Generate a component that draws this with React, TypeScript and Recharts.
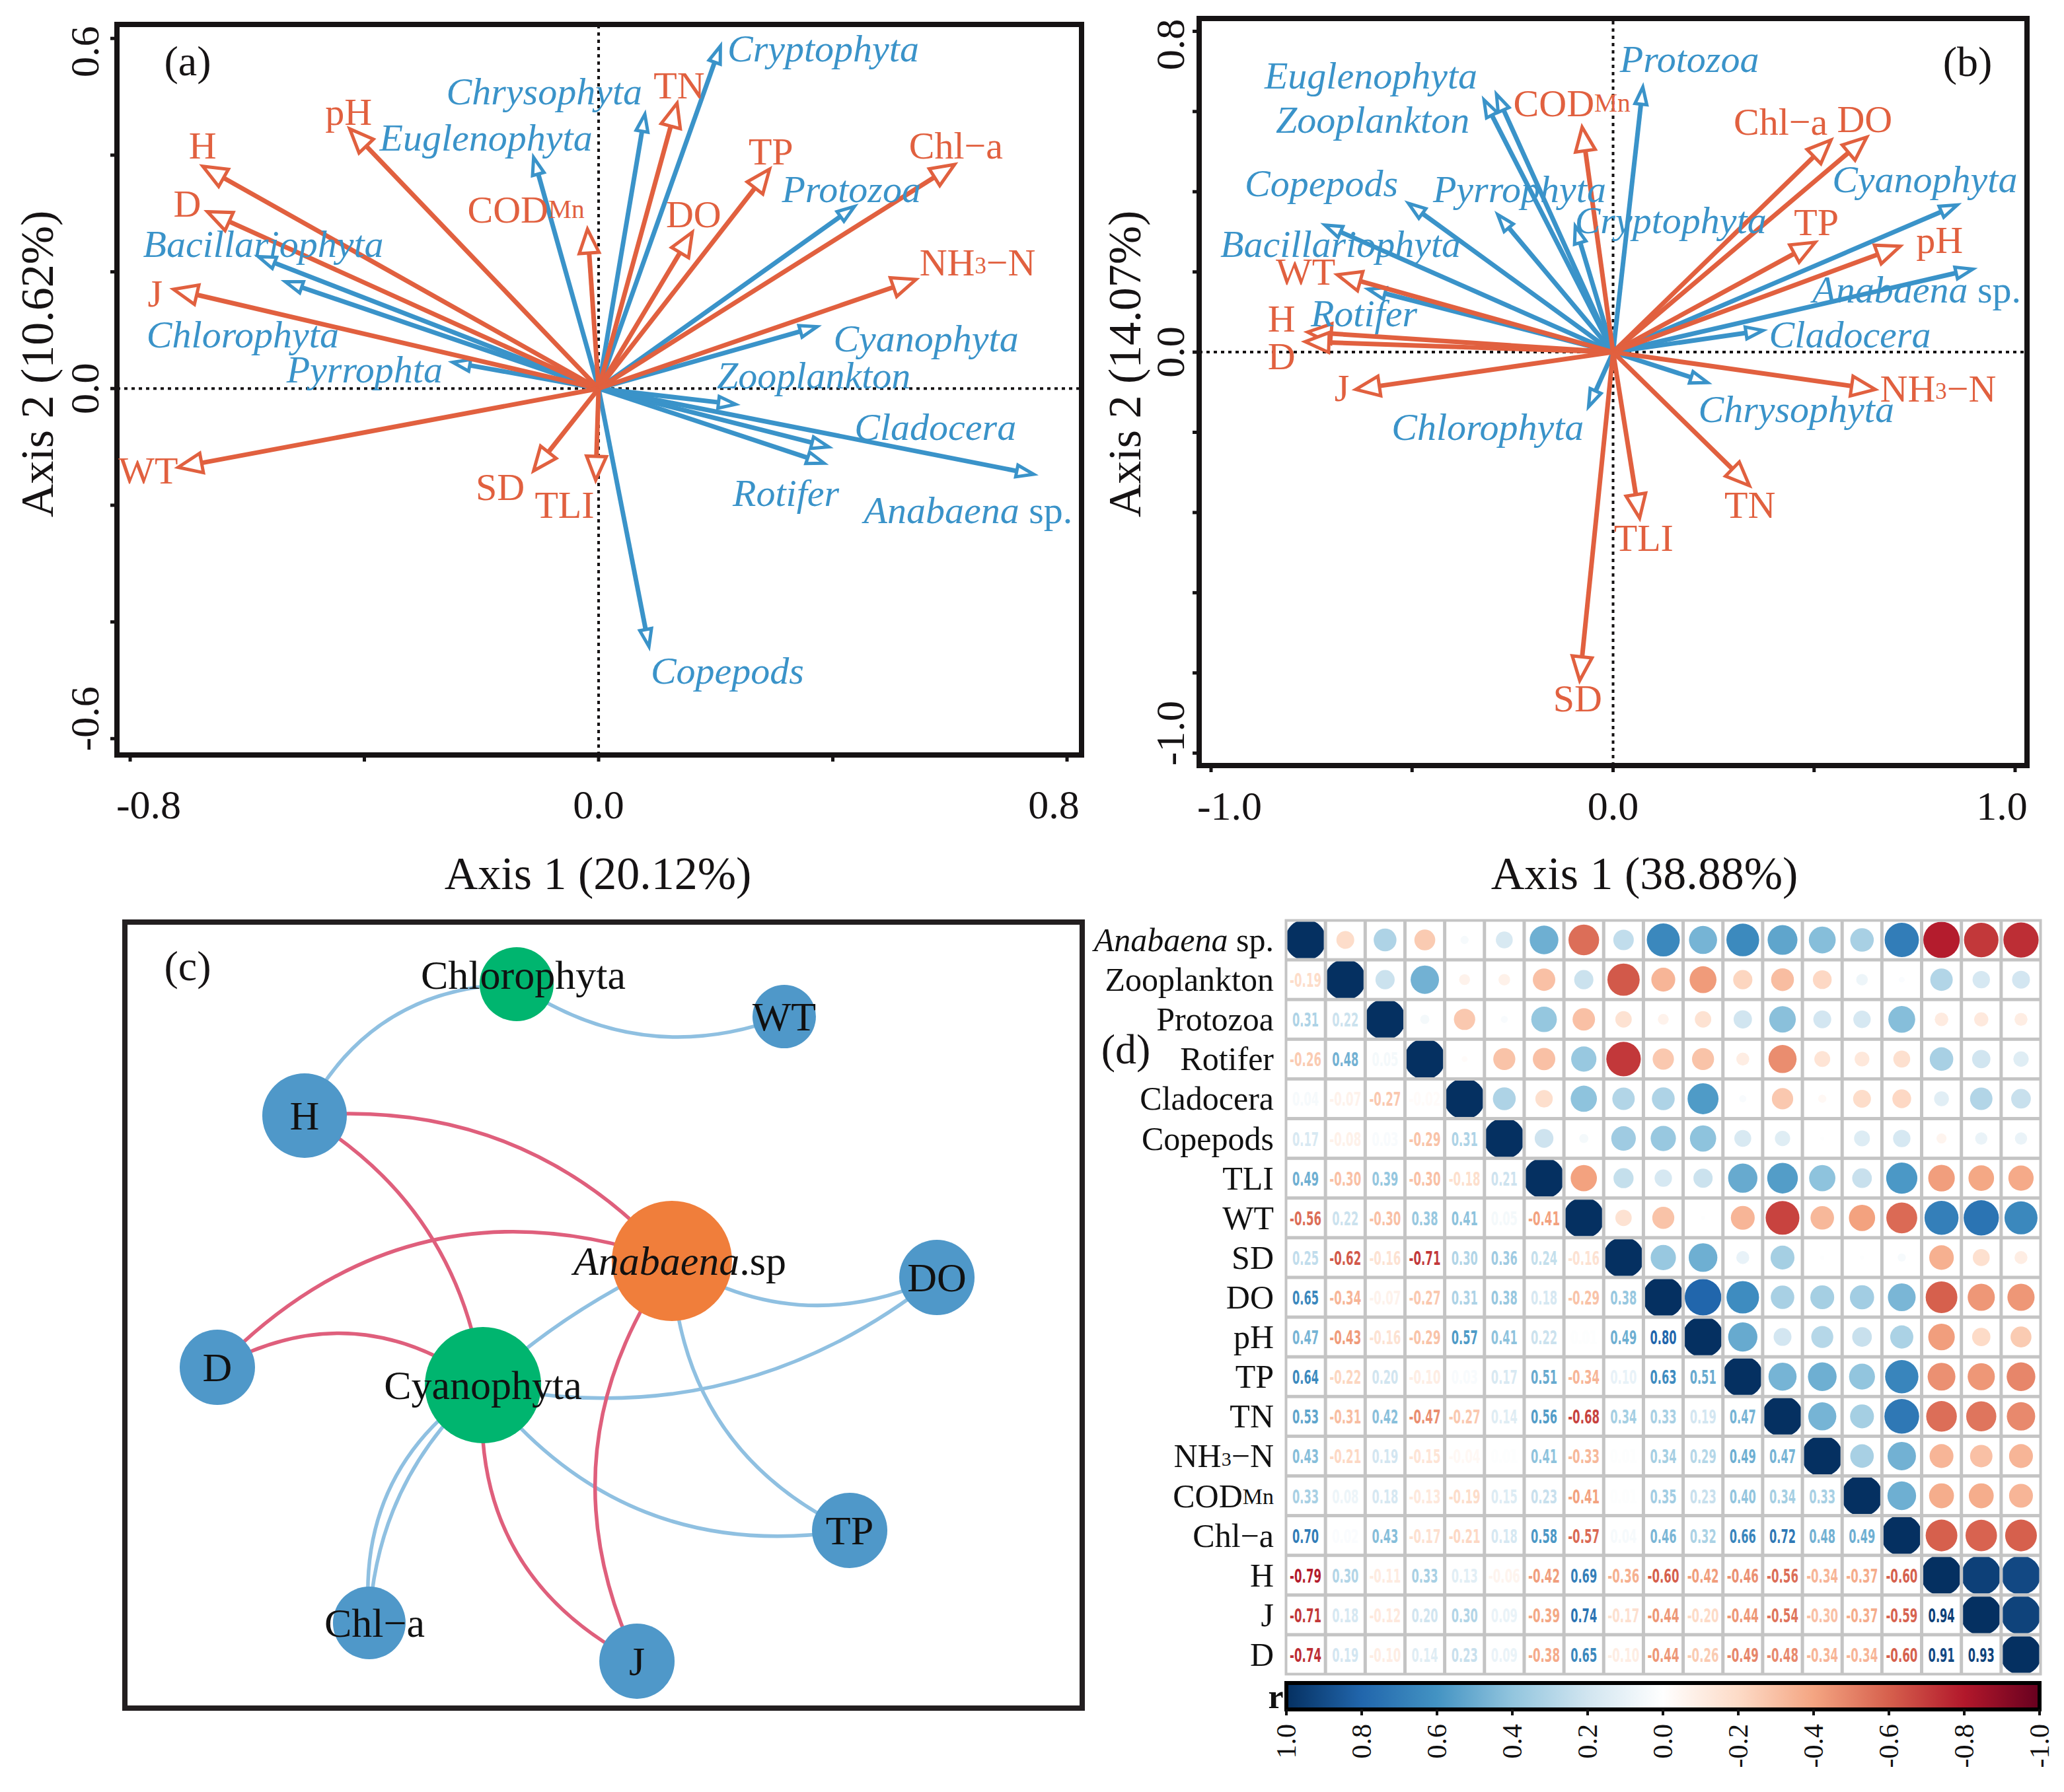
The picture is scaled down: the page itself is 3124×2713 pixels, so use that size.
import React from 'react';
import { ScatterChart, Scatter, XAxis, YAxis, ReferenceLine, ReferenceArea } from 'recharts';

const SERIF = '"Liberation Serif", "Times New Roman", Times, serif';
const NUMFONT = '"Liberation Sans Narrow", "DejaVu Sans Condensed", Roboto, "Liberation Sans", Arial, sans-serif';
const RED = '#e1603f';
const BLUE = '#3a93c9';
const INK = '#161314';

// ---------- (a) ordination, axis 1 20.12 %, axis 2 10.62 % ----------
const envA = [
  { name: 'H', x: -0.676, y: 0.381 },
  { name: 'pH', x: -0.425, y: 0.445 },
  { name: 'D', x: -0.668, y: 0.303 },
  { name: 'J', x: -0.726, y: 0.17 },
  { name: 'WT', x: -0.718, y: -0.135 },
  { name: 'CODMn', x: -0.019, y: 0.273 },
  { name: 'TN', x: 0.134, y: 0.489 },
  { name: 'TP', x: 0.292, y: 0.376 },
  { name: 'DO', x: 0.16, y: 0.268 },
  { name: 'Chl-a', x: 0.608, y: 0.384 },
  { name: 'NH3-N', x: 0.542, y: 0.187 },
  { name: 'SD', x: -0.111, y: -0.141 },
  { name: 'TLI', x: -0.005, y: -0.157 },
];
const spA = [
  { name: 'Cryptophyta', x: 0.208, y: 0.587 },
  { name: 'Chrysophyta', x: 0.079, y: 0.47 },
  { name: 'Euglenophyta', x: -0.111, y: 0.396 },
  { name: 'Protozoa', x: 0.437, y: 0.312 },
  { name: 'Bacillariophyta', x: -0.581, y: 0.226 },
  { name: 'Chlorophyta', x: -0.535, y: 0.183 },
  { name: 'Pyrrophta', x: -0.249, y: 0.045 },
  { name: 'Cyanophyta', x: 0.373, y: 0.106 },
  { name: 'Zooplankton', x: 0.234, y: -0.027 },
  { name: 'Cladocera', x: 0.393, y: -0.1 },
  { name: 'Rotifer', x: 0.385, y: -0.128 },
  { name: 'Anabaena sp.', x: 0.743, y: -0.147 },
  { name: 'Copepods', x: 0.086, y: -0.442 },
];
// where each name is written (text start, text middle height)
const labelsA = [
  { name: 'Cryptophyta', kind: 'sp', x: 0.22, y: 0.583 },
  { name: 'Chrysophyta', kind: 'sp', x: -0.26, y: 0.509 },
  { name: 'TN', kind: 'env', x: 0.094, y: 0.519 },
  { name: 'pH', kind: 'env', x: -0.467, y: 0.474 },
  { name: 'H', kind: 'env', x: -0.7, y: 0.416 },
  { name: 'Euglenophyta', kind: 'sp', x: -0.374, y: 0.43 },
  { name: 'TP', kind: 'env', x: 0.256, y: 0.406 },
  { name: 'Chl-a', kind: 'env', x: 0.53, y: 0.416 },
  { name: 'D', kind: 'env', x: -0.726, y: 0.317 },
  { name: 'CODMn', kind: 'env', x: -0.224, y: 0.307 },
  { name: 'DO', kind: 'env', x: 0.115, y: 0.298 },
  { name: 'Protozoa', kind: 'sp', x: 0.313, y: 0.342 },
  { name: 'Bacillariophyta', kind: 'sp', x: -0.778, y: 0.248 },
  { name: 'NH3-N', kind: 'env', x: 0.548, y: 0.216 },
  { name: 'J', kind: 'env', x: -0.77, y: 0.163 },
  { name: 'Chlorophyta', kind: 'sp', x: -0.772, y: 0.092 },
  { name: 'Cyanophyta', kind: 'sp', x: 0.401, y: 0.086 },
  { name: 'Pyrrophta', kind: 'sp', x: -0.533, y: 0.032 },
  { name: 'Zooplankton', kind: 'sp', x: 0.202, y: 0.022 },
  { name: 'Cladocera', kind: 'sp', x: 0.437, y: -0.066 },
  { name: 'WT', kind: 'env', x: -0.82, y: -0.141 },
  { name: 'SD', kind: 'env', x: -0.21, y: -0.169 },
  { name: 'TLI', kind: 'env', x: -0.109, y: -0.199 },
  { name: 'Rotifer', kind: 'sp', x: 0.229, y: -0.179 },
  { name: 'Anabaena sp.', kind: 'sp', x: 0.453, y: -0.208 },
  { name: 'Copepods', kind: 'sp', x: 0.089, y: -0.484 },
];
const XDOM_A = [-0.8226, 0.8248];
const YDOM_A = [-0.628, 0.624];
const XTICKS_A = [-0.8, -0.4, 0, 0.4, 0.8];
const YTICKS_A = [-0.6, -0.4, -0.2, 0, 0.2, 0.4, 0.6];
const XLAB_A = [-0.8, 0, 0.8];
const YLAB_A = [-0.6, 0, 0.6];

// ---------- (b) ordination, axis 1 38.88 %, axis 2 14.07 % ----------
const envB = [
  { name: 'CODMn', x: -0.077, y: 0.561 },
  { name: 'Chl-a', x: 0.542, y: 0.529 },
  { name: 'DO', x: 0.631, y: 0.536 },
  { name: 'TP', x: 0.503, y: 0.274 },
  { name: 'pH', x: 0.714, y: 0.264 },
  { name: 'WT', x: -0.686, y: 0.193 },
  { name: 'H', x: -0.76, y: 0.05 },
  { name: 'D', x: -0.766, y: 0.026 },
  { name: 'J', x: -0.64, y: -0.093 },
  { name: 'NH3-N', x: 0.652, y: -0.093 },
  { name: 'TN', x: 0.339, y: -0.333 },
  { name: 'TLI', x: 0.066, y: -0.414 },
  { name: 'SD', x: -0.083, y: -0.819 },
];
const spB = [
  { name: 'Protozoa', x: 0.074, y: 0.661 },
  { name: 'Euglenophyta', x: -0.29, y: 0.643 },
  { name: 'Zooplankton', x: -0.321, y: 0.629 },
  { name: 'Pyrrophyta', x: -0.287, y: 0.343 },
  { name: 'Copepods', x: -0.509, y: 0.371 },
  { name: 'Cryptophyta', x: -0.094, y: 0.314 },
  { name: 'Bacillariophyta', x: -0.717, y: 0.317 },
  { name: 'Rotifer', x: -0.609, y: 0.157 },
  { name: 'Cyanophyta', x: 0.856, y: 0.367 },
  { name: 'Anabaena sp.', x: 0.895, y: 0.207 },
  { name: 'Cladocera', x: 0.373, y: 0.054 },
  { name: 'Chrysophyta', x: 0.235, y: -0.076 },
  { name: 'Chlorophyta', x: -0.061, y: -0.136 },
];
const labelsB = [
  { name: 'Protozoa', kind: 'sp', x: 0.017, y: 0.731 },
  { name: 'Euglenophyta', kind: 'sp', x: -0.867, y: 0.689 },
  { name: 'CODMn', kind: 'env', x: -0.248, y: 0.621 },
  { name: 'Zooplankton', kind: 'sp', x: -0.839, y: 0.579 },
  { name: 'Chl-a', kind: 'env', x: 0.3, y: 0.574 },
  { name: 'DO', kind: 'env', x: 0.557, y: 0.581 },
  { name: 'Cyanophyta', kind: 'sp', x: 0.545, y: 0.431 },
  { name: 'Copepods', kind: 'sp', x: -0.916, y: 0.421 },
  { name: 'Pyrrophyta', kind: 'sp', x: -0.448, y: 0.407 },
  { name: 'Cryptophyta', kind: 'sp', x: -0.095, y: 0.329 },
  { name: 'TP', kind: 'env', x: 0.45, y: 0.324 },
  { name: 'pH', kind: 'env', x: 0.754, y: 0.279 },
  { name: 'Bacillariophyta', kind: 'sp', x: -0.977, y: 0.269 },
  { name: 'WT', kind: 'env', x: -0.839, y: 0.2 },
  { name: 'Anabaena sp.', kind: 'sp', x: 0.496, y: 0.157 },
  { name: 'H', kind: 'env', x: -0.859, y: 0.083 },
  { name: 'Rotifer', kind: 'sp', x: -0.752, y: 0.096 },
  { name: 'Cladocera', kind: 'sp', x: 0.388, y: 0.043 },
  { name: 'D', kind: 'env', x: -0.859, y: -0.011 },
  { name: 'J', kind: 'env', x: -0.693, y: -0.089 },
  { name: 'NH3-N', kind: 'env', x: 0.664, y: -0.09 },
  { name: 'Chrysophyta', kind: 'sp', x: 0.212, y: -0.143 },
  { name: 'Chlorophyta', kind: 'sp', x: -0.551, y: -0.186 },
  { name: 'TN', kind: 'env', x: 0.277, y: -0.381 },
  { name: 'TLI', kind: 'env', x: 0.002, y: -0.464 },
  { name: 'SD', kind: 'env', x: -0.149, y: -0.864 },
];
const XDOM_B = [-1.0296, 1.0296];
const YDOM_B = [-1.031, 0.832];
const XTICKS_B = [-1, -0.5, 0, 0.5, 1];
const YTICKS_B = [-1, -0.8, -0.6, -0.4, -0.2, 0, 0.2, 0.4, 0.6, 0.8];
const XLAB_B = [-1, 0, 1];
const YLAB_B = [-1, 0, 0.8];

// ---------- (c) network (layout coordinates 0-100) ----------
const nodesC = [
  { name: 'Chlorophyta', group: 'phylum', x: 40.92, y: 92.1 },
  { name: 'WT', group: 'env', x: 68.87, y: 87.98 },
  { name: 'H', group: 'env', x: 18.77, y: 75.38 },
  { name: 'Anabaena', group: 'genus', x: 57.14, y: 56.89 },
  { name: 'DO', group: 'env', x: 84.82, y: 54.79 },
  { name: 'D', group: 'env', x: 9.66, y: 43.36 },
  { name: 'Cyanophyta', group: 'phylum', x: 37.41, y: 41.09 },
  { name: 'TP', group: 'env', x: 75.71, y: 22.61 },
  { name: 'Chl-a', group: 'env', x: 25.53, y: 10.84 },
  { name: 'J', group: 'env', x: 53.49, y: 5.97 },
];
const edgesC = [
  { from: 'H', to: 'Chlorophyta', sign: 1 },
  { from: 'Chlorophyta', to: 'WT', sign: 1 },
  { from: 'H', to: 'Anabaena', sign: -1 },
  { from: 'H', to: 'Cyanophyta', sign: -1 },
  { from: 'D', to: 'Anabaena', sign: -1 },
  { from: 'D', to: 'Cyanophyta', sign: -1 },
  { from: 'Cyanophyta', to: 'Anabaena', sign: 1 },
  { from: 'Anabaena', to: 'DO', sign: 1 },
  { from: 'Cyanophyta', to: 'DO', sign: 1 },
  { from: 'Anabaena', to: 'TP', sign: 1 },
  { from: 'Cyanophyta', to: 'TP', sign: 1 },
  { from: 'Anabaena', to: 'J', sign: -1 },
  { from: 'Cyanophyta', to: 'J', sign: -1 },
  { from: 'Cyanophyta', to: 'Chl-a', sign: 1 },
  { from: 'Cyanophyta', to: 'Chl-a', sign: 1 },
];
const EDGE_BEND = [-0.3, 0.26, -0.25, -0.24, -0.32, -0.32, -0.08, 0.27, 0.235, 0.3, 0.295, 0.29, 0.33, 0.3, 0.21];
const NODE_R: Record<string, number> = {
  Chlorophyta: 56, WT: 48, H: 64, Anabaena: 91, DO: 57, D: 57, Cyanophyta: 88, TP: 57, 'Chl-a': 55, J: 57,
};
const NODE_FILL: Record<string, string> = { env: '#4f98c9', phylum: '#00b56f', genus: '#f07e3b' };

// ---------- (d) correlation matrix ----------
const varsD = ['Anabaena sp.', 'Zooplankton', 'Protozoa', 'Rotifer', 'Cladocera', 'Copepods', 'TLI', 'WT', 'SD', 'DO', 'pH', 'TP', 'TN', 'NH3-N', 'CODMn', 'Chl-a', 'H', 'J', 'D'];
const corrLower = [
  [],
  [-0.19],
  [0.31, 0.22],
  [-0.26, 0.48, 0.05],
  [0.04, -0.07, -0.27, -0.02],
  [0.17, -0.08, 0.03, -0.29, 0.31],
  [0.49, -0.3, 0.39, -0.3, -0.18, 0.21],
  [-0.56, 0.22, -0.3, 0.38, 0.41, 0.05, -0.41],
  [0.25, -0.62, -0.16, -0.71, 0.3, 0.36, 0.24, -0.16],
  [0.65, -0.34, -0.07, -0.27, 0.31, 0.38, 0.18, -0.29, 0.38],
  [0.47, -0.43, -0.16, -0.29, 0.57, 0.41, 0.22, 0.01, 0.49, 0.8],
  [0.64, -0.22, 0.2, -0.1, 0.03, 0.17, 0.51, -0.34, 0.1, 0.63, 0.51],
  [0.53, -0.31, 0.42, -0.47, -0.27, 0.14, 0.56, -0.68, 0.34, 0.33, 0.19, 0.47],
  [0.43, -0.21, 0.19, -0.15, -0.04, 0.01, 0.41, -0.33, 0.01, 0.34, 0.29, 0.49, 0.47],
  [0.33, 0.08, 0.18, -0.13, -0.19, 0.15, 0.23, -0.41, 0.01, 0.35, 0.23, 0.4, 0.34, 0.33],
  [0.7, 0.02, 0.43, -0.17, -0.21, 0.18, 0.58, -0.57, 0.04, 0.46, 0.32, 0.66, 0.72, 0.48, 0.49],
  [-0.79, 0.3, -0.11, 0.33, 0.13, -0.06, -0.42, 0.69, -0.36, -0.6, -0.42, -0.46, -0.56, -0.34, -0.37, -0.6],
  [-0.71, 0.18, -0.12, 0.2, 0.3, 0.09, -0.39, 0.74, -0.17, -0.44, -0.2, -0.44, -0.54, -0.3, -0.37, -0.59, 0.94],
  [-0.74, 0.19, -0.1, 0.14, 0.23, 0.09, -0.38, 0.65, -0.1, -0.44, -0.26, -0.49, -0.48, -0.34, -0.34, -0.6, 0.91, 0.93],
];
const COLORBAR_TICKS = [1, 0.8, 0.6, 0.4, 0.2, 0, -0.2, -0.4, -0.6, -0.8, -1];

const PAL = ['#67001F', '#B2182B', '#D6604D', '#F4A582', '#FDDBC7', '#FFFFFF', '#D1E5F0', '#92C5DE', '#4393C3', '#2166AC', '#053061'];

function hex(c: string) {
  return [1, 3, 5].map((i) => parseInt(c.slice(i, i + 2), 16));
}
function rdbu(r: number) {
  const t = Math.max(0, Math.min(10, ((r + 1) / 2) * 10));
  const i = Math.min(9, Math.floor(t));
  const f = t - i;
  const a = hex(PAL[i]);
  const b = hex(PAL[i + 1]);
  const m = a.map((v, k) => Math.round(v + (b[k] - v) * f));
  return `rgb(${m[0]},${m[1]},${m[2]})`;
}

const cells: { col: number; row: number; r: number }[] = [];
varsD.forEach((_, i) => {
  varsD.forEach((__, j) => {
    const r = i === j ? 1 : i > j ? corrLower[i][j] : corrLower[j][i];
    cells.push({ col: j + 1, row: i + 1, r });
  });
});

// names with subscripts, minus signs and italics
function rich(name: string, fs: number, italicGenus = true) {
  switch (name) {
    case 'CODMn':
      return [<tspan key="0">COD</tspan>, <tspan key="1" fontSize={fs * 0.68}>Mn</tspan>];
    case 'NH3-N':
      return [
        <tspan key="0">NH</tspan>,
        <tspan key="1" fontSize={fs * 0.6} dy={fs * 0.08}>3</tspan>,
        <tspan key="2" dy={-fs * 0.08}>−N</tspan>,
      ];
    case 'Chl-a':
      return 'Chl−a';
    case 'Anabaena sp.':
      return [<tspan key="0" fontStyle={italicGenus ? 'italic' : undefined}>Anabaena</tspan>, <tspan key="1" fontStyle="normal"> sp.</tspan>];
    default:
      return name;
  }
}

const near = (list: number[], v: number) => list.some((l) => Math.abs(l - v) < 1e-9);

function makeXTick(labelled: number[], yText: number) {
  return (p: any) => {
    const v = p.payload.value;
    if (!near(labelled, v)) return <g />;
    const shift = v < 0 ? 28 : v > 0 ? -20 : 0;
    return (
      <text x={p.x + shift} y={yText} textAnchor="middle" dominantBaseline="central" fontFamily={SERIF} fontSize={62} fill={INK}>
        {v.toFixed(1)}
      </text>
    );
  };
}
function makeYTick(labelled: number[], xText: number) {
  return (p: any) => {
    const v = p.payload.value;
    if (!near(labelled, v)) return <g />;
    const shift = v > 0 ? 20 : v < 0 ? -30 : 0;
    return (
      <text transform={`translate(${xText},${p.y + shift}) rotate(-90)`} textAnchor="middle" dominantBaseline="central" fontFamily={SERIF} fontSize={62} fill={INK}>
        {v.toFixed(1)}
      </text>
    );
  };
}

function arrowShape(color: string, head: number, half: number) {
  return (p: any) => {
    const { x1, y1, x2, y2 } = p;
    if (x1 == null || x2 == null) return <g />;
    const dx = x2 - x1;
    const dy = y2 - y1;
    const len = Math.hypot(dx, dy) || 1;
    const ux = dx / len;
    const uy = dy / len;
    const bx = x2 - ux * head;
    const by = y2 - uy * head;
    const pts = `${x2},${y2} ${bx - uy * half},${by + ux * half} ${bx + uy * half},${by - ux * half}`;
    return (
      <g>
        <line x1={x1} y1={y1} x2={bx} y2={by} stroke={color} strokeWidth={7} />
        <polygon points={pts} fill="#fff" stroke={color} strokeWidth={5} />
      </g>
    );
  };
}

const vecLabel = (fs: number) => (p: any) => {
  const d = p.payload;
  const sp = d.kind === 'sp';
  return (
    <text x={p.cx} y={p.cy} dominantBaseline="central" fontFamily={SERIF} fontSize={fs} fontStyle={sp ? 'italic' : 'normal'} fill={sp ? BLUE : RED}>
      {rich(d.name, fs)}
    </text>
  );
};

type OrdProps = {
  width: number;
  height: number;
  margin: { top: number; right: number; bottom: number; left: number };
  xDom: number[];
  yDom: number[];
  xTicks: number[];
  yTicks: number[];
  xLab: number[];
  yLab: number[];
  env: { name: string; x: number; y: number }[];
  sp: { name: string; x: number; y: number }[];
  labels: { name: string; kind: string; x: number; y: number }[];
  xTickY: number;
  yTickX: number;
  xTitle: string;
  yTitle: string;
  xTitlePos: number[];
  yTitlePos: number[];
  tag: string;
  tagPos: number[];
};

function Ordination(o: OrdProps) {
  return (
    <ScatterChart width={o.width} height={o.height} margin={o.margin}>
      <XAxis type="number" dataKey="x" domain={o.xDom} ticks={o.xTicks} interval={0} allowDataOverflow axisLine={false}
        tickLine={{ stroke: INK, strokeWidth: 5 }} tickSize={10} height={60} tick={makeXTick(o.xLab, o.xTickY)} />
      <YAxis type="number" dataKey="y" domain={o.yDom} ticks={o.yTicks} interval={0} allowDataOverflow axisLine={false}
        tickLine={{ stroke: INK, strokeWidth: 5 }} tickSize={10} width={60} tick={makeYTick(o.yLab, o.yTickX)} />
      <ReferenceLine x={0} stroke={INK} strokeWidth={4} strokeDasharray="5 6" />
      <ReferenceLine y={0} stroke={INK} strokeWidth={4} strokeDasharray="5 6" />
      {o.sp.map((v) => (
        <ReferenceLine key={'s' + v.name} segment={[{ x: 0, y: 0 }, { x: v.x, y: v.y }]} ifOverflow="visible" shape={arrowShape(BLUE, 26, 9)} />
      ))}
      {o.env.map((v) => (
        <ReferenceLine key={'e' + v.name} segment={[{ x: 0, y: 0 }, { x: v.x, y: v.y }]} ifOverflow="visible" shape={arrowShape(RED, 36, 15)} />
      ))}
      <Scatter data={o.labels} isAnimationActive={false} shape={vecLabel(58)} />
      <ReferenceArea x1={o.xDom[0]} x2={o.xDom[1]} y1={o.yDom[0]} y2={o.yDom[1]} fill="none" fillOpacity={0} stroke={INK} strokeWidth={8} ifOverflow="visible" />
      <text x={o.xTitlePos[0]} y={o.xTitlePos[1]} textAnchor="middle" dominantBaseline="central" fontFamily={SERIF} fontSize={70} fill={INK}>
        {o.xTitle}
      </text>
      <text transform={`translate(${o.yTitlePos[0]},${o.yTitlePos[1]}) rotate(-90)`} textAnchor="middle" dominantBaseline="central" fontFamily={SERIF} fontSize={70} fill={INK}>
        {o.yTitle}
      </text>
      <text x={o.tagPos[0]} y={o.tagPos[1]} textAnchor="middle" dominantBaseline="central" fontFamily={SERIF} fontSize={64} fill={INK}>
        {o.tag}
      </text>
    </ScatterChart>
  );
}

function curveShape(color: string, bend: number) {
  return (p: any) => {
    const { x1, y1, x2, y2 } = p;
    if (x1 == null || x2 == null) return <g />;
    const dx = x2 - x1;
    const dy = y2 - y1;
    const cx = (x1 + x2) / 2 - dy * bend;
    const cy = (y1 + y2) / 2 + dx * bend;
    return <path d={`M${x1},${y1} Q${cx},${cy} ${x2},${y2}`} fill="none" stroke={color} strokeWidth={5.5} strokeLinecap="round" />;
  };
}

const nodeShape = (p: any) => {
  const d = p.payload;
  const r = NODE_R[d.name];
  const fs = 62;
  let label: any = d.name === 'Chl-a' ? 'Chl−a' : d.name;
  if (d.name === 'Anabaena') label = [<tspan key="0" fontStyle="italic">Anabaena</tspan>, <tspan key="1">.sp</tspan>];
  const dx = d.name === 'Chlorophyta' ? 10 : d.name === 'Anabaena' ? 12 : d.name === 'Chl-a' ? 8 : 0;
  const dy = d.name === 'Chlorophyta' ? -14 : 0;
  return (
    <g>
      <circle cx={p.cx} cy={p.cy} r={r} fill={NODE_FILL[d.group]} />
      <text x={p.cx + dx} y={p.cy + dy} textAnchor="middle" dominantBaseline="central" fontFamily={SERIF} fontSize={fs} fill="#111">
        {label}
      </text>
    </g>
  );
};

function Network() {
  const pos = (n: string) => nodesC.find((d) => d.name === n)!;
  return (
    <ScatterChart width={1469} height={1210} margin={{ top: 10, right: 10, bottom: 10, left: 10 }}>
      <XAxis type="number" dataKey="x" domain={[0, 100]} hide allowDataOverflow />
      <YAxis type="number" dataKey="y" domain={[0, 100]} hide allowDataOverflow />
      {edgesC.map((e, i) => {
        const a = pos(e.from);
        const b = pos(e.to);
        return (
          <ReferenceLine key={i} segment={[{ x: a.x, y: a.y }, { x: b.x, y: b.y }]} ifOverflow="visible"
            shape={curveShape(e.sign > 0 ? '#8fc0e1' : '#df5f7c', EDGE_BEND[i])} />
        );
      })}
      <Scatter data={nodesC} isAnimationActive={false} shape={nodeShape} />
      <ReferenceArea x1={0} x2={100} y1={0} y2={100} fill="none" fillOpacity={0} stroke="#231f20" strokeWidth={8} ifOverflow="visible" />
      <text x={105} y={76} textAnchor="middle" dominantBaseline="central" fontFamily={SERIF} fontSize={64} fill={INK}>(c)</text>
    </ScatterChart>
  );
}

const CELL_W = 1143 / 19;
const CELL_H = 1142 / 19;
const R_MAX = 31;

const cellShape = (p: any) => {
  const { cx, cy, payload } = p;
  const { row, col, r } = payload;
  const w = CELL_W - 5;
  const h = CELL_H - 5;
  const color = rdbu(r);
  const id = `cl${row}_${col}`;
  let content: any = null;
  if (col >= row) {
    const rad = R_MAX * Math.sqrt(Math.abs(r));
    content = (
      <g>
        <clipPath id={id}>
          <rect x={cx - w / 2} y={cy - h / 2} width={w} height={h} />
        </clipPath>
        <circle cx={cx} cy={cy} r={rad} fill={color} clipPath={`url(#${id})`} />
      </g>
    );
  } else {
    const s = r.toFixed(2);
    content = (
      <text x={cx} y={cy + 1} textAnchor="middle" dominantBaseline="central" fontFamily={NUMFONT} fontWeight={700} fontSize={29}
        fill={color} textLength={s.startsWith('-') ? 48 : 40} lengthAdjust="spacingAndGlyphs">
        {s}
      </text>
    );
  }
  return (
    <g>
      <rect x={cx - w / 2} y={cy - h / 2} width={w} height={h} fill="#fff" />
      {content}
    </g>
  );
};

const rowTick = (p: any) => (
  <text x={288} y={p.y} textAnchor="end" dominantBaseline="central" fontFamily={SERIF} fontSize={50} fill="#111">
    {rich(varsD[p.payload.value - 1], 50)}
  </text>
);

function Heatmap() {
  return (
    <ScatterChart width={1484} height={1180} margin={{ top: 13, right: 35, bottom: 25, left: 6 }}>
      <XAxis type="number" dataKey="col" domain={[0.5, 19.5]} hide allowDataOverflow />
      <YAxis type="number" dataKey="row" domain={[0.5, 19.5]} reversed width={300} ticks={varsD.map((_, i) => i + 1)} interval={0}
        axisLine={false} tickLine={false} tick={rowTick} allowDataOverflow />
      <ReferenceArea x1={0.5} x2={19.5} y1={0.5} y2={19.5} fill="#c4c4c4" fillOpacity={1} stroke="#c4c4c4" strokeWidth={3} ifOverflow="visible" />
      <Scatter data={cells} isAnimationActive={false} shape={cellShape} />
      <text x={64} y={208} textAnchor="middle" dominantBaseline="central" fontFamily={SERIF} fontSize={64} fill={INK}>(d)</text>
    </ScatterChart>
  );
}

const barTick = (p: any) => {
  const v = p.payload.value;
  return (
    <text transform={`translate(${p.x},80) rotate(-90)`} textAnchor="end" dominantBaseline="central" fontFamily={SERIF} fontSize={42} fill="#111">
      {v.toFixed(1)}
    </text>
  );
};

// colour-bar anchor points (one per tick) so the bar's scales have data
const barPoints = COLORBAR_TICKS.map((v) => ({ x: v, y: 0.5 }));

function ColorBar() {
  return (
    <ScatterChart width={1244} height={183} margin={{ top: 18, right: 37, bottom: 65, left: 67 }}>
      <defs>
        <linearGradient id="rdbuBar" x1="0" y1="0" x2="1" y2="0">
          {PAL.slice().reverse().map((c, i) => (
            <stop key={i} offset={`${i * 10}%`} stopColor={c} />
          ))}
        </linearGradient>
      </defs>
      <XAxis type="number" dataKey="x" domain={[-1, 1]} reversed ticks={COLORBAR_TICKS} interval={0} axisLine={false}
        tickLine={{ stroke: '#111', strokeWidth: 4 }} tickSize={9} height={60} tick={barTick} allowDataOverflow />
      <YAxis type="number" dataKey="y" domain={[0, 1]} hide allowDataOverflow />
      <ReferenceArea x1={1} x2={-1} y1={0} y2={1} fill="url(#rdbuBar)" fillOpacity={1} stroke="#000" strokeWidth={6} ifOverflow="visible" />
      <Scatter data={barPoints} isAnimationActive={false} shape={() => <g />} />
      <text x={51} y={38} textAnchor="middle" dominantBaseline="central" fontFamily={SERIF} fontWeight={700} fontSize={52} fill="#111">r</text>
    </ScatterChart>
  );
}

export default function App() {
  return (
    <div style={{ position: 'absolute', left: 0, top: 0, width: 3124, height: 2713, background: '#fff', overflow: 'hidden' }}>
      <div style={{ position: 'absolute', left: 0, top: 0 }}>
        <Ordination width={1700} height={1400} margin={{ top: 37, right: 63, bottom: 197, left: 117 }}
          xDom={XDOM_A} yDom={YDOM_A} xTicks={XTICKS_A} yTicks={YTICKS_A} xLab={XLAB_A} yLab={YLAB_A}
          env={envA} sp={spA} labels={labelsA} xTickY={1218} yTickX={128}
          xTitle="Axis 1 (20.12%)" yTitle="Axis 2 (10.62%)" xTitlePos={[905, 1322]} yTitlePos={[56, 551]}
          tag="(a)" tagPos={[284, 92]} />
      </div>
      <div style={{ position: 'absolute', left: 1660, top: 0 }}>
        <Ordination width={1464} height={1400} margin={{ top: 28, right: 56, bottom: 181, left: 95 }}
          xDom={XDOM_B} yDom={YDOM_B} xTicks={XTICKS_B} yTicks={YTICKS_B} xLab={XLAB_B} yLab={YLAB_B}
          env={envB} sp={spB} labels={labelsB} xTickY={1220} yTickX={111}
          xTitle="Axis 1 (38.88%)" yTitle="Axis 2 (14.07%)" xTitlePos={[829, 1322]} yTitlePos={[42, 551]}
          tag="(b)" tagPos={[1318, 93]} />
      </div>
      <div style={{ position: 'absolute', left: 179, top: 1386 }}>
        <Network />
      </div>
      <div style={{ position: 'absolute', left: 1640, top: 1380 }}>
        <Heatmap />
      </div>
      <div style={{ position: 'absolute', left: 1880, top: 2530 }}>
        <ColorBar />
      </div>
    </div>
  );
}
